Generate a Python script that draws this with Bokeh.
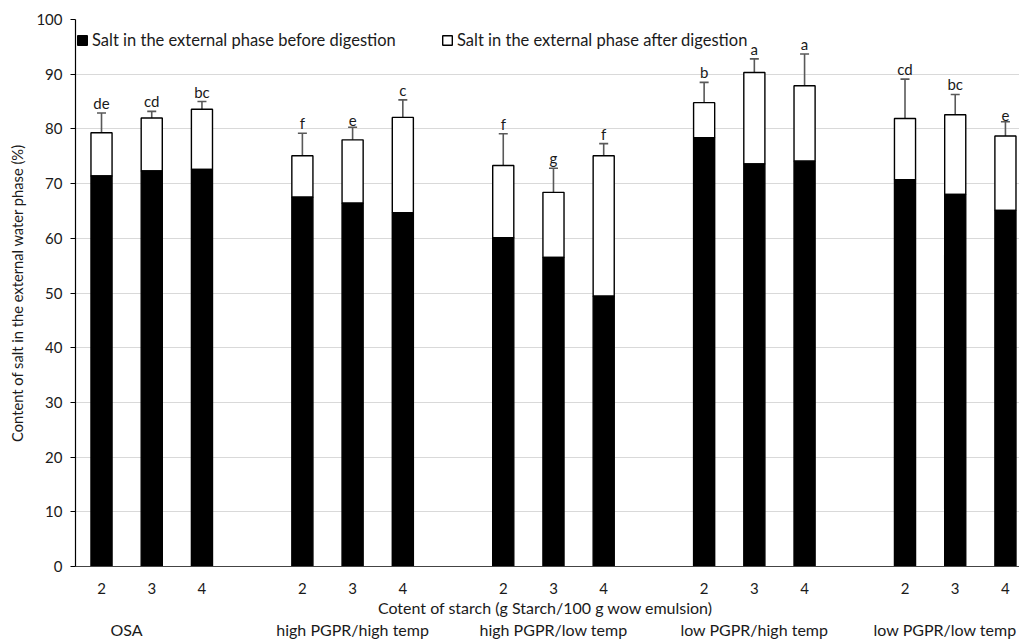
from bokeh.plotting import figure
from bokeh.models import (ColumnDataSource, Whisker, TeeHead, Legend, LegendItem,
                          LinearAxis, FixedTicker, Range1d)
from bokeh.core.properties import value
from bokeh.embed import file_html
from bokeh.resources import INLINE

groups = ["OSA", "high PGPR/high temp", "high PGPR/low temp", "low PGPR/high temp", "low PGPR/low temp"]
starch = ["2", "3", "4"]
before = [71.4, 72.3, 72.6, 67.5, 66.4, 64.7, 60.1, 56.5, 49.4, 78.4, 73.6, 74.1, 70.7, 68.0, 65.1]
total = [79.3, 82.0, 83.6, 75.1, 78.0, 82.1, 73.3, 68.4, 75.1, 84.8, 90.3, 87.9, 81.9, 82.6, 78.7]
err = [3.6, 1.2, 1.4, 4.1, 2.3, 3.2, 5.8, 4.4, 2.2, 3.7, 2.5, 5.8, 7.2, 3.7, 2.6]
letters = ["de", "cd", "bc", "f", "e", "c", "f", "g", "f", "b", "a", "a", "cd", "bc", "e"]
ytick_values = [0, 10, 20, 30, 40, 50, 60, 70, 80, 90, 100]

FONT = "Lato"
TXT = "#1a1a1a"

xs = []
xlabels = []
for g in range(len(groups)):
    for i, s in enumerate(starch):
        xs.append(g * 4 + i)
        xlabels.append(s)

src = ColumnDataSource(dict(
    x=xs, before=before, total=total, err=err, letters=letters,
    upper=[t + e for t, e in zip(total, err)],
    lower=[t - e for t, e in zip(total, err)],
))

p = figure(width=1019, height=641, output_backend="svg", toolbar_location=None,
           x_range=Range1d(-0.518, 18.28), y_range=Range1d(0, 100),
           min_border_left=75, min_border_top=19, min_border_right=0, min_border_bottom=72)
p.outline_line_color = None
p.xgrid.grid_line_color = None
p.ygrid.grid_line_color = "#d9d9d9"
p.ygrid.ticker = FixedTicker(ticks=ytick_values)

w = 0.42
r_after = p.vbar(x="x", bottom="before", top="total", width=w, source=src,
                 fill_color="white", line_color="black", line_width=1.4)
r_before = p.vbar(x="x", bottom=0, top="before", width=w, source=src,
                  fill_color="black", line_color="black", line_width=1.4)

wh = Whisker(base="x", upper="upper", lower="lower", source=src,
             line_color="#595959", line_width=1.6,
             upper_head=TeeHead(size=9, line_color="#595959", line_width=1.6),
             lower_head=TeeHead(size=9, line_color="#595959", line_width=1.6))
p.add_layout(wh)

p.text(x="x", y="upper", text="letters", source=src, text_align="center",
       text_baseline="bottom", y_offset=-1, text_font=value(FONT),
       text_font_size="15px", text_color=TXT)

# y axis
p.yaxis.ticker = FixedTicker(ticks=ytick_values)
p.yaxis.axis_label = "Content of salt in the external water phase (%)"
p.yaxis.axis_label_text_font = FONT
p.yaxis.axis_label_text_font_style = "normal"
p.yaxis.axis_label_text_font_size = "14.7px"
p.yaxis.axis_label_text_color = TXT
p.yaxis.major_label_text_font = FONT
p.yaxis.major_label_text_font_size = "15px"
p.yaxis.major_label_text_color = TXT
p.yaxis.axis_line_color = "black"
p.yaxis.axis_line_width = 1.2
p.yaxis.major_tick_line_color = "black"
p.yaxis.major_tick_in = 0
p.yaxis.major_tick_out = 5
p.yaxis.minor_tick_line_color = None
p.yaxis.major_label_standoff = 8
p.yaxis.axis_label_standoff = 7

# x axis
p.xaxis.ticker = FixedTicker(ticks=xs)
p.xaxis.major_label_overrides = {x: l for x, l in zip(xs, xlabels)}
p.xaxis.axis_label = "Cotent of starch (g Starch/100 g  wow emulsion)"
p.xaxis.axis_label_text_font = FONT
p.xaxis.axis_label_text_font_style = "normal"
p.xaxis.axis_label_text_font_size = "16px"
p.xaxis.axis_label_text_color = TXT
p.xaxis.major_label_text_font = FONT
p.xaxis.major_label_text_font_size = "15px"
p.xaxis.major_label_text_color = TXT
p.xaxis.axis_line_color = "#444444"
p.xaxis.axis_line_width = 1.2
p.xaxis.major_tick_line_color = None
p.xaxis.major_tick_in = 0
p.xaxis.major_tick_out = 0
p.xaxis.minor_tick_line_color = None
p.xaxis.major_label_standoff = 16
p.xaxis.axis_label_standoff = 1

group_pos = [0.5, 5.0, 9.0, 13.0, 16.8]
gax = LinearAxis(ticker=FixedTicker(ticks=group_pos),
                 major_label_overrides={x: g for x, g in zip(group_pos, groups)})
gax.axis_line_color = None
gax.major_tick_line_color = None
gax.minor_tick_line_color = None
gax.major_tick_in = 0
gax.major_tick_out = 0
gax.major_label_text_font = FONT
gax.major_label_text_font_size = "16px"
gax.major_label_text_color = TXT
gax.major_label_standoff = 0
p.add_layout(gax, "below")

leg1 = Legend(items=[LegendItem(label="Salt in the external phase before digestion", renderers=[r_before])],
              location=(1, 516))
leg2 = Legend(items=[LegendItem(label="Salt in the external phase after digestion", renderers=[r_after])],
              location=(366, 516))
for lg in (leg1, leg2):
    lg.background_fill_alpha = 0
    lg.border_line_color = None
    lg.padding = 2
    lg.margin = 0
    lg.glyph_width = 12
    lg.glyph_height = 12
    lg.label_standoff = 4
    lg.label_text_font = FONT
    lg.label_text_font_size = "16.5px"
    lg.label_text_color = TXT
    p.add_layout(lg, "center")

open("out.html", "w").write(file_html(p, INLINE))
